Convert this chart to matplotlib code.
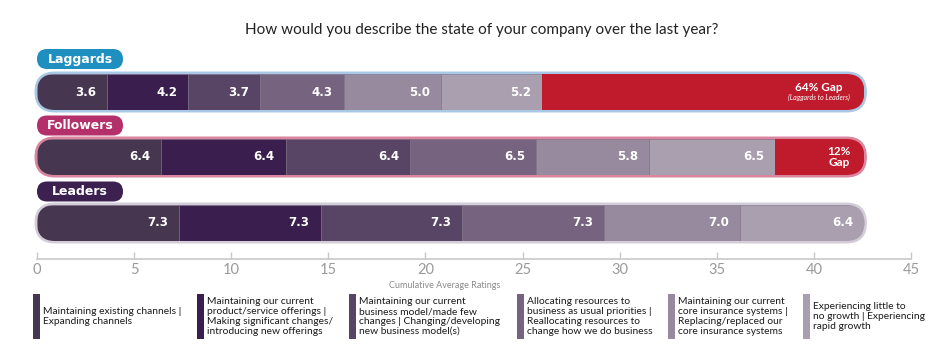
import numpy as np
import matplotlib.pyplot as plt
from matplotlib.patches import FancyBboxPatch

# data
groups = ["Laggards", "Followers", "Leaders"]
laggards = [3.6, 4.2, 3.7, 4.3, 5.0, 5.2]
followers = [6.4, 6.4, 6.4, 6.5, 5.8, 6.5]
leaders = [7.3, 7.3, 7.3, 7.3, 7.0, 6.4]
gap_main = ["64% Gap", "12%\nGap", None]
gap_note = ["(Laggards to Leaders)", None, None]
legend_labels = [
    "Maintaining existing channels |\nExpanding channels",
    "Maintaining our current\nproduct/service offerings |\nMaking significant changes/\nintroducing new offerings",
    "Maintaining our current\nbusiness model/made few\nchanges | Changing/developing\nnew business model(s)",
    "Allocating resources to\nbusiness as usual priorities |\nReallocating resources to\nchange how we do business",
    "Maintaining our current\ncore insurance systems |\nReplacing/replaced our\ncore insurance systems",
    "Experiencing little to\nno growth | Experiencing\nrapid growth",
]
xticks = [0, 5, 10, 15, 20, 25, 30, 35, 40, 45]

# styles
seg_colors = ["#46364f", "#3a1e4e", "#584565", "#766380", "#978a9f", "#aa9fae"]
gap_color = "#c01b2c"
pill_colors = ["#1f8fbf", "#b3306b", "#3c2150"]
border_colors = ["#a9c8e6", "#d9869e", "#d3cdda"]

W, H = 946, 357
plt.rcParams["font.family"] = ["Lato", "DejaVu Sans"]
BOLD = ["DejaVu Sans"]

fig = plt.figure(figsize=(W / 100, H / 100), dpi=100)
ax_l, ax_r, ax_t, ax_b = 37, 911, 40, 259
ax = fig.add_axes([ax_l / W, 1 - ax_b / H, (ax_r - ax_l) / W, (ax_b - ax_t) / H])
ax.set_xlim(0, 45)
ax.set_ylim(ax_b, ax_t)  # y in pixel rows
pxu = (ax_r - ax_l) / 45.0  # pixels per rating unit

series = [laggards, followers, leaders]
top_total = sum(leaders)
bar_y = [92, 157, 223]
pill_y = [59, 125.5, 191.5]
bar_h = 36
bw = 2.5  # border in px
gap_x = [819, 839, None]

for i, vals in enumerate(series):
    yc = bar_y[i]
    # outer border pill
    b = bw / pxu
    outer = FancyBboxPatch((-b, yc - bar_h / 2 - bw), top_total + 2 * b, bar_h + 2 * bw,
                           boxstyle="round,pad=0,rounding_size=%f" % ((bar_h / 2 + bw) / pxu),
                           mutation_aspect=pxu, facecolor=border_colors[i],
                           edgecolor="none", clip_on=False, zorder=1)
    ax.add_patch(outer)
    inner = FancyBboxPatch((0, yc - bar_h / 2), top_total, bar_h,
                           boxstyle="round,pad=0,rounding_size=%f" % ((bar_h / 2) / pxu),
                           mutation_aspect=pxu, facecolor="none",
                           edgecolor="none", clip_on=False, zorder=2)
    ax.add_patch(inner)

    lefts = np.concatenate([[0], np.cumsum(vals)[:-1]])
    bars = ax.barh(yc, vals, left=lefts, height=bar_h, color=seg_colors,
                   edgecolor="#7b6d85", linewidth=0.4, zorder=3)
    total = sum(vals)
    gap = ax.barh(yc, top_total - total, left=total, height=bar_h,
                  color=gap_color, linewidth=0, zorder=3)
    for p in list(bars) + list(gap):
        p.set_clip_path(inner)
    for v, l in zip(vals, lefts):
        ax.text(l + v - 11 / pxu, yc, "%.1f" % v, ha="right", va="center",
                color="white", fontsize=8.5, fontweight="bold", family=BOLD, zorder=4)
    if gap_main[i] is not None:
        gx = (gap_x[i] - ax_l) / pxu
        if gap_note[i] is not None:
            ax.text(gx, yc - 4.5, gap_main[i], ha="center", va="center",
                    color="white", fontsize=8.5, fontweight="bold", zorder=4)
            ax.text(gx, yc + 5.5, gap_note[i], ha="center", va="center",
                    color="white", fontsize=5, style="italic", zorder=4)
        else:
            ax.text(gx, yc, gap_main[i], ha="center", va="center",
                    color="white", fontsize=8.5, fontweight="bold", zorder=4,
                    linespacing=0.95)

    # group name pill
    pw, ph = 86, 20
    pill = FancyBboxPatch((0, pill_y[i] - ph / 2), pw / pxu, ph,
                          boxstyle="round,pad=0,rounding_size=%f" % ((ph / 2) / pxu),
                          mutation_aspect=pxu, facecolor=pill_colors[i],
                          edgecolor="none", clip_on=False, zorder=2)
    ax.add_patch(pill)
    ax.text(pw / 2 / pxu, pill_y[i], groups[i], ha="center", va="center",
            color="white", fontsize=9, fontweight="bold", family=BOLD, zorder=4)

# axis styling
for s in ["top", "right", "left"]:
    ax.spines[s].set_visible(False)
ax.spines["bottom"].set_color("#c8c8c8")
ax.spines["bottom"].set_linewidth(1.2)
ax.set_yticks([])
ax.set_xticks(xticks)
ax.tick_params(axis="x", direction="in", length=5, width=1, color="#c8c8c8",
               labelcolor="#9a9a9a", labelsize=10.5, pad=3)
ax.patch.set_visible(False)

fig.text(445 / W, 1 - 286 / H, "Cumulative Average Ratings", ha="center", va="center",
         fontsize=6.5, color="#8a8a8a")

fig.text(482 / W, 1 - 30 / H, "How would you describe the state of your company over the last year?",
         ha="center", va="center", fontsize=11, color="#222222")

# legend
leg_x = [33, 197, 349, 517, 668, 803]
for x, c, lab in zip(leg_x, seg_colors, legend_labels):
    fig.patches.append(plt.Rectangle((x / W, 1 - 339 / H), 7 / W, 45 / H,
                                     transform=fig.transFigure, facecolor=c,
                                     edgecolor="none"))
    fig.text((x + 10) / W, 1 - 316.5 / H, lab, ha="left", va="center",
             fontsize=7.4, color="#1a1a1a", linespacing=1.1)

fig.savefig("out.png", dpi=100)
